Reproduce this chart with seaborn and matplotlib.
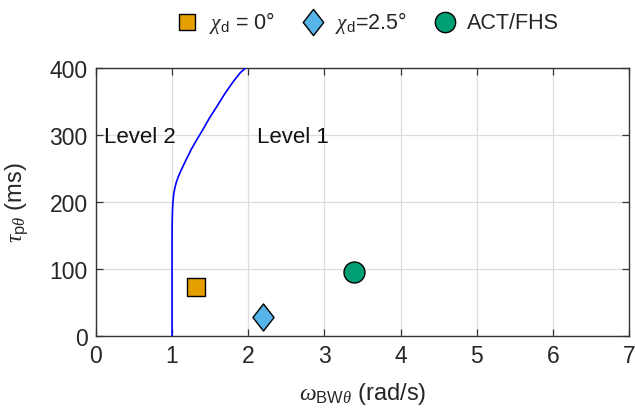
import matplotlib
matplotlib.use("Agg")
import matplotlib.pyplot as plt
from matplotlib.path import Path
import seaborn as sns
import pandas as pd

# Level 1 / Level 2 boundary (bandwidth vs. phase delay)
boundary_bw = [1.0, 1.0, 1.002, 1.006, 1.012, 1.02, 1.035, 1.055, 1.08, 1.11, 1.147,
               1.19, 1.25, 1.32, 1.40, 1.49, 1.586, 1.69, 1.80, 1.89, 1.965]
boundary_tau = [0, 150, 172, 188, 200, 210, 220, 229, 237, 245, 254,
                264, 278, 292, 307, 325, 342, 361, 379, 392, 400]

# Evaluated configurations
labels = [r"$\chi_\mathrm{d}$ = 0°", r"$\chi_\mathrm{d}$=2.5°", "ACT/FHS"]
bw_values = [1.31, 2.2, 3.39]
tau_values = [73, 28, 95]
colors = ["#E69F00", "#56B4E9", "#009E73"]

# tall diamond marker
diamond = Path([(0, 1), (0.78, 0), (0, -1), (-0.78, 0), (0, 1)],
               [Path.MOVETO, Path.LINETO, Path.LINETO, Path.LINETO, Path.CLOSEPOLY])
markers = ["s", diamond, "o"]
sizes = [150, 380, 228]

sns.set_theme(style="ticks")
plt.rcParams["font.family"] = ["Liberation Sans", "DejaVu Sans"]
plt.rcParams["mathtext.fontset"] = "custom"
plt.rcParams["mathtext.rm"] = "Liberation Sans"
plt.rcParams["mathtext.it"] = "Liberation Serif:italic"

fig = plt.figure(figsize=(6.35, 4.1), dpi=100)
ax = fig.add_axes([0.151, 0.178, 0.8396, 0.654])

boundary = pd.DataFrame({"bw": boundary_bw, "tau": boundary_tau})
sns.lineplot(data=boundary, x="bw", y="tau", ax=ax, color="#0000FF",
             lw=1.2, sort=False, estimator=None, zorder=3)

for lab, x, y, c, m, s in zip(labels, bw_values, tau_values, colors, markers, sizes):
    pts = pd.DataFrame({"bw": [x], "tau": [y]})
    sns.scatterplot(data=pts, x="bw", y="tau", ax=ax, color=c, marker=m, s=s,
                    edgecolor="black", linewidth=1.0, label=lab, zorder=4)

ax.text(0.11, 298, "Level 2", fontsize=16, va="center", ha="left", color="#111111")
ax.text(2.12, 298, "Level 1", fontsize=16, va="center", ha="left", color="#111111")

ax.set_xlim(0, 7)
ax.set_ylim(0, 400)
ax.set_xticks(range(0, 8))
ax.set_yticks(range(0, 401, 100))
ax.grid(True, color="#DDDDDD", lw=0.9)
ax.set_axisbelow(True)
ax.tick_params(direction="in", length=5, width=0.9, colors="#333333",
               labelsize=16.5, labelcolor="#262626", top=True, right=True, pad=6)
for sp in ax.spines.values():
    sp.set_color("#333333")
    sp.set_linewidth(1.0)

ax.set_xlabel(r"$\omega_{\mathrm{BW}\theta}$ (rad/s)", fontsize=17, color="#262626", labelpad=9)
ax.set_ylabel(r"$\tau_{\mathrm{p}\theta}$ (ms)", fontsize=17, color="#262626", labelpad=14)

ax.legend(loc="lower left", bbox_to_anchor=(0.134, 1.09), ncol=3, frameon=False,
          fontsize=15.5, handlelength=1.0, handletextpad=0.55, columnspacing=1.25,
          markerscale=0.97, borderaxespad=0.0)

fig.savefig("out.png", dpi=100)
